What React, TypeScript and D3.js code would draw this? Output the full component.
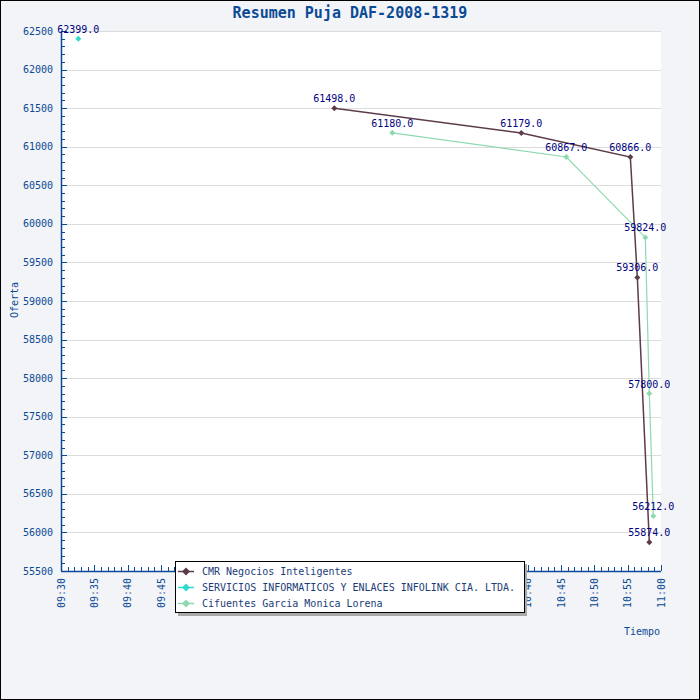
import React from "react";
import * as d3 from "d3";

const TITLE = "Resumen Puja DAF-2008-1319";
const SERIES_NAMES = [
  "CMR Negocios Inteligentes",
  "SERVICIOS INFORMATICOS Y ENLACES INFOLINK CIA. LTDA.",
  "Cifuentes Garcia Monica Lorena",
];
const SERIES_COLORS = ["#5c3c4c", "#33d9cc", "#8ed9b0"];

const cmrTimes = ["10:11:00", "10:39:03", "10:55:24", "10:56:27", "10:58:15"];
const cmrValues = [61498, 61179, 60866, 59306, 55874];
const infolinkTimes = ["09:32:36"];
const infolinkValues = [62399];
const cifTimes = ["10:19:42", "10:45:48", "10:57:39", "10:58:15", "10:58:51"];
const cifValues = [61180, 60867, 59824, 57800, 56212];

const xTickLabels = ["09:30", "09:35", "09:40", "09:45", "09:50", "09:55", "10:00", "10:05", "10:10", "10:15", "10:20", "10:25", "10:30", "10:35", "10:40", "10:45", "10:50", "10:55", "11:00"];
const yTickValues = [55500, 56000, 56500, 57000, 57500, 58000, 58500, 59000, 59500, 60000, 60500, 61000, 61500, 62000, 62500];

const parse = d3.timeParse("%H:%M:%S");
const parseHM = d3.timeParse("%H:%M");

const seriesTimes = [cmrTimes, infolinkTimes, cifTimes];
const seriesValues = [cmrValues, infolinkValues, cifValues];

export default function App() {
  const W = 700, H = 700;
  const left = 61, right = 661, top = 31, bottom = 571;
  const x = d3.scaleTime().domain([parseHM("09:30")!, parseHM("11:00")!]).range([left, right]);
  const y = d3.scaleLinear().domain([55500, 62500]).range([bottom, top]);
  const axisColor = "#0b4a96";
  const font = "'DejaVu Sans Mono', monospace";

  const minorX = d3.timeMinute.range(parseHM("09:30")!, new Date(parseHM("11:00")!.getTime() + 1000));
  const minorY = d3.range(55500, 62501, 100);

  const line = d3.line<[Date, number]>().x(d => x(d[0])).y(d => y(d[1]));

  const diamond = (cx: number, cy: number, r: number) =>
    `M${cx},${cy - r}L${cx + r},${cy}L${cx},${cy + r}L${cx - r},${cy}Z`;

  return (
    <div style={{ position: "absolute", left: 0, top: 0 }}>
      <svg width={W} height={H} style={{ display: "block" }}>
        <rect x={0.5} y={0.5} width={W - 1} height={H - 1} fill="#f3f4f7" stroke="#000" strokeWidth={1} />
        <rect x={left} y={top} width={right - left} height={bottom - top} fill="#fff" />
        <text x={350} y={18} textAnchor="middle" fontFamily={font} fontWeight="bold" fontSize={15} fill="#0b4a96">{TITLE}</text>
        {/* grid */}
        {yTickValues.map(v => (
          <line key={"g" + v} x1={left} x2={right} y1={Math.round(y(v)) + 0.5} y2={Math.round(y(v)) + 0.5} stroke="#dcdcdc" strokeWidth={1} />
        ))}
        {/* y axis */}
        <line x1={left + 0.5} x2={left + 0.5} y1={top} y2={bottom} stroke={axisColor} strokeWidth={1.5} />
        {minorY.map(v => {
          const major = v % 500 === 0;
          return <line key={"ty" + v} x1={left} x2={left + (major ? 6 : 4)} y1={Math.round(y(v)) + 0.5} y2={Math.round(y(v)) + 0.5} stroke={axisColor} strokeWidth={1} />;
        })}
        {yTickValues.map(v => (
          <text key={"yl" + v} x={53} y={y(v)} dy="0.35em" textAnchor="end" fontFamily={font} fontSize={10} fill={axisColor}>{v}</text>
        ))}
        <text transform={`translate(18,300) rotate(-90)`} textAnchor="middle" fontFamily={font} fontSize={10} fill={axisColor}>Oferta</text>
        {/* x axis */}
        <line x1={left} x2={right} y1={bottom + 0.5} y2={bottom + 0.5} stroke={axisColor} strokeWidth={1.5} />
        {minorX.map((t, i) => {
          const major = i % 5 === 0;
          const xx = Math.round(x(t)) + 0.5;
          return <line key={"tx" + i} x1={xx} x2={xx} y1={bottom} y2={bottom - (major ? 6 : 4)} stroke={axisColor} strokeWidth={1} />;
        })}
        {xTickLabels.map(l => {
          const xx = x(parseHM(l)!);
          return (
            <text key={"xl" + l} transform={`translate(${xx + 3.5},578) rotate(-90)`} textAnchor="end" fontFamily={font} fontSize={10} fill={axisColor}>{l}</text>
          );
        })}
        <text x={660} y={635} textAnchor="end" fontFamily={font} fontSize={10} fill={axisColor}>Tiempo</text>
        {/* series */}
        {seriesTimes.map((ts, si) => {
          const pts: [Date, number][] = ts.map((t, i) => [parse(t)!, seriesValues[si][i]]);
          return (
            <g key={"s" + si}>
              {pts.length > 1 && (
                <path d={line(pts) || ""} fill="none" stroke={SERIES_COLORS[si]} strokeWidth={si === 0 ? 1.5 : 1.2} />
              )}
              {pts.map((p, i) => (
                <path key={"m" + i} d={diamond(x(p[0]), y(p[1]), 3)} fill={SERIES_COLORS[si]} />
              ))}
            </g>
          );
        })}
        {seriesTimes.map((ts, si) =>
          ts.map((t, i) => (
            <text key={"v" + si + "-" + i} x={x(parse(t)!)} y={y(seriesValues[si][i]) - 6} textAnchor="middle" fontFamily={font} fontSize={10} fill="#000080">
              {seriesValues[si][i].toFixed(1)}
            </text>
          ))
        )}
        {/* legend */}
        <rect x={178} y={564} width={349} height={52} fill="#aaaaaa" />
        <rect x={175.5} y={561.5} width={349} height={51} fill="#fff" stroke="#000" strokeWidth={1} />
        {SERIES_NAMES.map((n, i) => {
          const cy = 571 + i * 16;
          return (
            <g key={"lg" + i}>
              <line x1={178} x2={194} y1={cy + 0.5} y2={cy + 0.5} stroke={SERIES_COLORS[i]} strokeWidth={1.5} />
              <path d={diamond(186, cy + 0.5, 4)} fill={SERIES_COLORS[i]} />
              <text x={202} y={cy} dy="0.35em" fontFamily={font} fontSize={10} fill="#1b3c78">{n}</text>
            </g>
          );
        })}
      </svg>
    </div>
  );
}
